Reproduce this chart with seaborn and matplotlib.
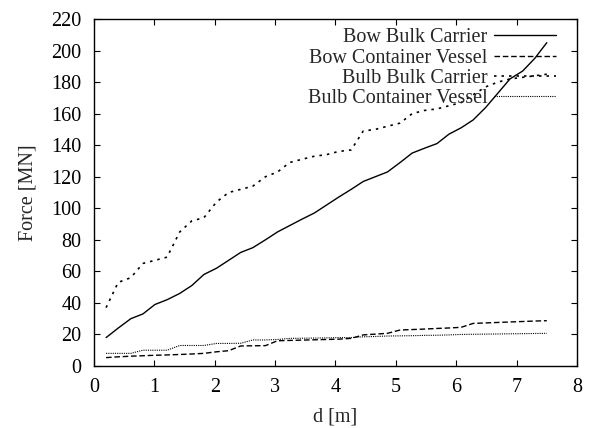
import matplotlib
matplotlib.use("Agg")
import matplotlib.pyplot as plt
import seaborn as sns
import pandas as pd

# penetration depth d [m]
depth = [0.20, 0.40, 0.61, 0.81, 1.01, 1.21, 1.42, 1.62, 1.82, 2.03,
         2.23, 2.43, 2.63, 2.84, 3.04, 3.24, 3.44, 3.65, 3.85, 4.05,
         4.26, 4.46, 4.66, 4.86, 5.07, 5.27, 5.47, 5.68, 5.88, 6.08,
         6.28, 6.49, 6.69, 6.89, 7.10, 7.30, 7.50]

bow_bulk = [18, 24, 30, 33, 39, 42, 46, 51, 58, 62,
            67, 72, 75, 80, 85, 89, 93, 97, 102, 107,
            112, 117, 120, 123, 129, 135, 138, 141, 147, 151,
            156, 164, 173, 182, 187, 195, 205]

bow_container = [5.3, 5.8, 6.2, 6.5, 6.8, 7.0, 7.3, 7.6, 8.0, 9.0,
                 9.7, 12.7, 12.8, 12.9, 16.0, 16.2, 16.4, 16.6, 16.8, 17.0,
                 17.5, 19.7, 20.2, 20.7, 22.8, 23.1, 23.4, 23.8, 24.1, 24.5,
                 27.0, 27.3, 27.6, 27.9, 28.2, 28.5, 28.7]

bulb_bulk = [37, 53, 56, 65, 67, 69, 85, 92, 94, 104,
             110, 112, 114, 120, 123, 129, 131, 133, 134, 136,
             137, 149, 150, 152, 154, 160, 162, 163, 165, 167,
             172, 177, 180, 182, 183, 184, 185]

bulb_container = [8.0, 8.0, 8.0, 10.0, 10.0, 10.0, 13.0, 13.0, 13.0, 14.3,
                  14.3, 14.4, 16.5, 16.5, 16.8, 17.5, 17.6, 17.7, 17.8, 18.0,
                  18.0, 18.5, 18.7, 19.0, 19.1, 19.2, 19.4, 19.5, 19.7, 20.0,
                  20.1, 20.2, 20.3, 20.4, 20.5, 20.6, 20.7]

x_ticks = [0, 1, 2, 3, 4, 5, 6, 7, 8]
y_ticks = [0, 20, 40, 60, 80, 100, 120, 140, 160, 180, 200, 220]

series = {
    "Bow Bulk Carrier": (bow_bulk, (None, None), 1.0),
    "Bow Container Vessel": (bow_container, (4, 2), 1.0),
    "Bulb Bulk Carrier": (bulb_bulk, (1.5, 3), 1.2),
    "Bulb Container Vessel": (bulb_container, (1, 1), 0.8),
}

sns.set_style("ticks")
plt.rcParams['font.family'] = ['Liberation Serif', 'DejaVu Serif']
font_size = 14.5

fig = plt.figure(figsize=(5.89, 4.28), dpi=100)
ax = fig.add_axes([0.1596, 0.1449, 0.8200, 0.8107])

for name, (vals, dash, lw) in series.items():
    df = pd.DataFrame({"d": depth, "F": vals})
    line_ax = sns.lineplot(data=df, x="d", y="F", ax=ax, color="black",
                           linewidth=lw, label=name)
    ln = line_ax.lines[-1]
    if dash[0] is None:
        ln.set_linestyle("-")
    else:
        ln.set_dashes(dash)

ax.set_xlim(0, 8)
ax.set_ylim(0, 220)
ax.set_xticks(x_ticks)
ax.set_yticks(y_ticks)
ax.set_xlabel("d [m]", fontsize=font_size, labelpad=7)
ax.set_ylabel("Force [MN]", fontsize=font_size, labelpad=10)

ax.tick_params(axis='both', which='major', labelsize=font_size, direction='in',
               top=True, right=True, length=4.5, width=0.8, colors='black', pad=9)
for sp in ax.spines.values():
    sp.set_visible(True)
    sp.set_linewidth(1.0)
    sp.set_color("black")

leg = ax.legend(loc="upper right", frameon=False, markerfirst=False,
                fontsize=font_size, handlelength=3.1, handletextpad=0.3,
                labelspacing=0.06, borderaxespad=0.0, borderpad=0.0,
                bbox_to_anchor=(0.9565, 0.973))
for h in leg.get_lines():
    h.set_color("black")

plt.grid(False)
plt.savefig("out.png", dpi=100)
